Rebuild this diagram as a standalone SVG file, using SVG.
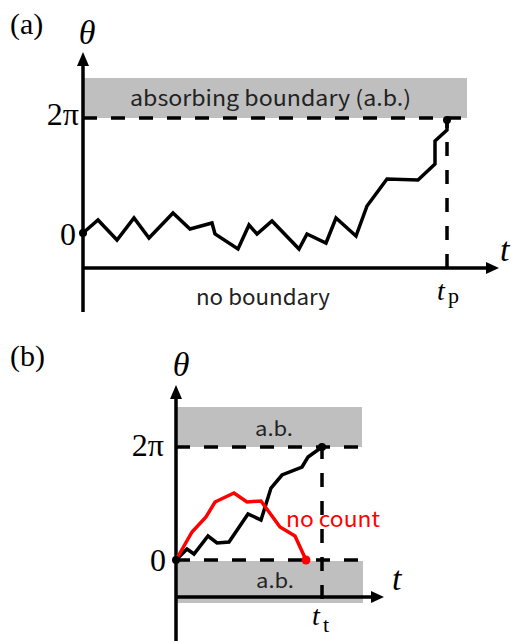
<svg xmlns="http://www.w3.org/2000/svg" width="518" height="641" viewBox="0 0 518 641">
<style>
.band{fill:#bfbfbf;stroke:none}
.axis{stroke:#000;stroke-width:3.5;fill:none}
.dash{stroke:#000;stroke-width:3.5;fill:none;stroke-dasharray:14 14}
.walk{stroke:#000;stroke-width:3.5;fill:none;stroke-linejoin:miter}
.red{stroke:#ff0000;stroke-width:3.5;fill:none}
.math{font-family:"Liberation Serif","DejaVu Serif",serif;fill:#000}
.it{font-style:italic}
.sans{font-family:"Noto Sans CJK JP","Noto Sans",sans-serif;fill:#222}
</style>
<g id="panel-a">
  <text class="math" x="10" y="34" font-size="30">(a)</text>
  <g id="a-band">
    <rect class="band" x="83" y="78" width="384" height="40"/>
    <text class="sans" x="130" y="106" font-size="21" textLength="281" lengthAdjust="spacingAndGlyphs">absorbing boundary (a.b.)</text>
  </g>
  <g id="a-axes">
    <line class="axis" x1="83" y1="312" x2="83" y2="64"/>
    <polygon points="83,52 77,66 89,66" fill="#000"/>
    <line class="axis" x1="83" y1="268" x2="488" y2="268"/>
    <polygon points="499,268 486,262 486,274" fill="#000"/>
    <text class="math it" x="87" y="44" font-size="34" text-anchor="middle">θ</text>
    <text class="math it" x="500" y="261" font-size="34">t</text>
    <text class="math" x="79" y="125" font-size="32" text-anchor="end">2π</text>
    <text class="math" x="76" y="245" font-size="32" text-anchor="end">0</text>
    <text class="math it" x="437" y="300" font-size="28">t</text>
    <text class="math" x="448" y="303" font-size="22">p</text>
    <text class="sans" x="196" y="305" font-size="21" textLength="134" lengthAdjust="spacingAndGlyphs">no boundary</text>
  </g>
  <g id="a-connectors">
    <line class="dash" x1="83" y1="118" x2="467" y2="118"/>
    <line class="dash" x1="447" y1="268" x2="447" y2="118"/>
    <polyline class="walk" points="83,233 98,220 117,240 134,218 149,238 173,213 190,229 212,223 215,234 238,249 249,225 257,234 272,221 299,249 307,234 326,243 336,218 356,236 367,206 387,179 418,180 435,164 435,141 447,130 447,120"/>
    <circle cx="83" cy="233" r="4" fill="#000"/>
    <circle cx="447" cy="120" r="4" fill="#000"/>
  </g>
</g>
<g id="panel-b">
  <text class="math" x="10" y="366" font-size="30">(b)</text>
  <g id="b-band-top">
    <rect class="band" x="176" y="407" width="186" height="40"/>
    <text class="sans" x="255" y="436" font-size="20" textLength="38" lengthAdjust="spacingAndGlyphs">a.b.</text>
  </g>
  <g id="b-band-bottom">
    <rect class="band" x="176" y="561" width="187" height="42"/>
    <text class="sans" x="256" y="588" font-size="20" textLength="38" lengthAdjust="spacingAndGlyphs">a.b.</text>
  </g>
  <g id="b-axes">
    <line class="axis" x1="176" y1="641" x2="176" y2="397"/>
    <polygon points="176,385 170,399 182,399" fill="#000"/>
    <line class="axis" x1="176" y1="597" x2="373" y2="597"/>
    <polygon points="384,597 371,591 371,603" fill="#000"/>
    <text class="math it" x="181" y="376" font-size="34" text-anchor="middle">θ</text>
    <text class="math it" x="392" y="590" font-size="34">t</text>
    <text class="math" x="164" y="456" font-size="32" text-anchor="end">2π</text>
    <text class="math" x="166" y="571" font-size="32" text-anchor="end">0</text>
    <text class="math it" x="312" y="625" font-size="28">t</text>
    <text class="math" x="323" y="632" font-size="22">t</text>
  </g>
  <g id="b-connectors">
    <line class="dash" x1="176" y1="447" x2="362" y2="447"/>
    <line class="dash" x1="176" y1="560" x2="362" y2="560"/>
    <line class="dash" x1="322" y1="599" x2="322" y2="447"/>
    <polyline class="walk" points="176,560 187,549 194,554 208,536 217,543 229,542 248,514 261,520 271,488 282,475 302,467 308,457 322,447"/>
    <polyline class="red" points="176,560 192,532 206,517 215,502 234,493 247,502 261,501 280,527 295,536 306,560"/>
    <circle cx="176" cy="560" r="4" fill="#000"/>
    <circle cx="322" cy="447" r="4" fill="#000"/>
    <circle cx="306" cy="560" r="4.5" fill="#ff0000"/>
    <text class="sans" x="286" y="527" font-size="21" style="fill:#ff0000" textLength="94" lengthAdjust="spacingAndGlyphs">no count</text>
  </g>
</g>
</svg>
